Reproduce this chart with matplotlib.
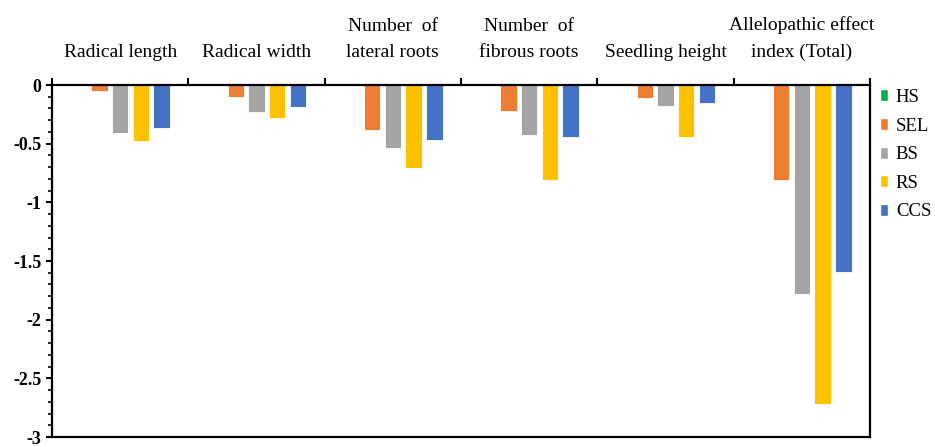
import numpy as np
import matplotlib.pyplot as plt
from matplotlib.patches import Patch
from matplotlib.ticker import MultipleLocator

plt.rcParams['font.family'] = ['Liberation Serif', 'DejaVu Serif']

categories = ["Radical length", "Radical width", "Number  of\nlateral roots",
              "Number  of\nfibrous roots", "Seedling height",
              "Allelopathic effect\nindex (Total)"]
series = ["HS", "SEL", "BS", "RS", "CCS"]
hs = [0, 0, 0, 0, 0, 0]
sel = [-0.05, -0.10, -0.385, -0.22, -0.11, -0.81]
bs = [-0.41, -0.23, -0.54, -0.43, -0.175, -1.785]
rs = [-0.475, -0.285, -0.71, -0.81, -0.44, -2.715]
ccs = [-0.365, -0.185, -0.465, -0.44, -0.15, -1.59]
colors = ["#00B050", "#ED7D31", "#A5A5A5", "#FFC000", "#4472C4"]

values = [hs, sel, bs, rs, ccs]

fig = plt.figure(figsize=(9.35, 4.47), dpi=100)
ax = fig.add_axes([52 / 935, 1 - 437 / 447, (870 - 52) / 935, (437 - 85) / 447])

x = np.arange(len(categories)) + 0.5
slot = 0.152
width = 0.121
for i, (name, vals, c) in enumerate(zip(series, values, colors)):
    ax.bar(x + (i - 2) * slot, vals, width, color=c, edgecolor="white",
           linewidth=0.6, label=name)

ax.set_xlim(0, len(categories))
ax.set_ylim(-3, 0)

ax.xaxis.tick_top()
ax.set_xticks(np.arange(len(categories) + 1))
ax.set_xticklabels([])
ax.set_xticks(x, minor=True)
ax.set_xticklabels(categories, minor=True, fontsize=14, linespacing=1.75)
ax.tick_params(axis="x", which="major", direction="out", length=5, width=1.5, top=True, bottom=False)
ax.tick_params(axis="x", which="minor", length=0, pad=17, top=True, bottom=False)

ax.yaxis.set_major_locator(MultipleLocator(0.5))
ax.yaxis.set_minor_locator(MultipleLocator(0.1))
ax.set_yticks([0, -0.5, -1, -1.5, -2, -2.5, -3])
ax.set_yticklabels(["0", "-0.5", "-1", "-1.5", "-2", "-2.5", "-3"], fontsize=13, fontweight="bold")
ax.tick_params(axis="y", which="major", direction="out", length=4, width=1.5, right=False)
ax.tick_params(axis="y", which="minor", direction="out", length=3, width=1.2, right=False)

for s in ax.spines.values():
    s.set_linewidth(1.6)

handles = [Patch(facecolor=c, edgecolor="white", label=n) for n, c in zip(series, colors)]
fig.legend(handles=handles, loc="upper left", bbox_to_anchor=(880 / 935, 1 - 89 / 447),
           frameon=False, fontsize=13.5, handlelength=0.45, handleheight=0.6,
           handletextpad=0.4, labelspacing=0.62, borderpad=0, borderaxespad=0)

fig.savefig("out.png", dpi=100)
